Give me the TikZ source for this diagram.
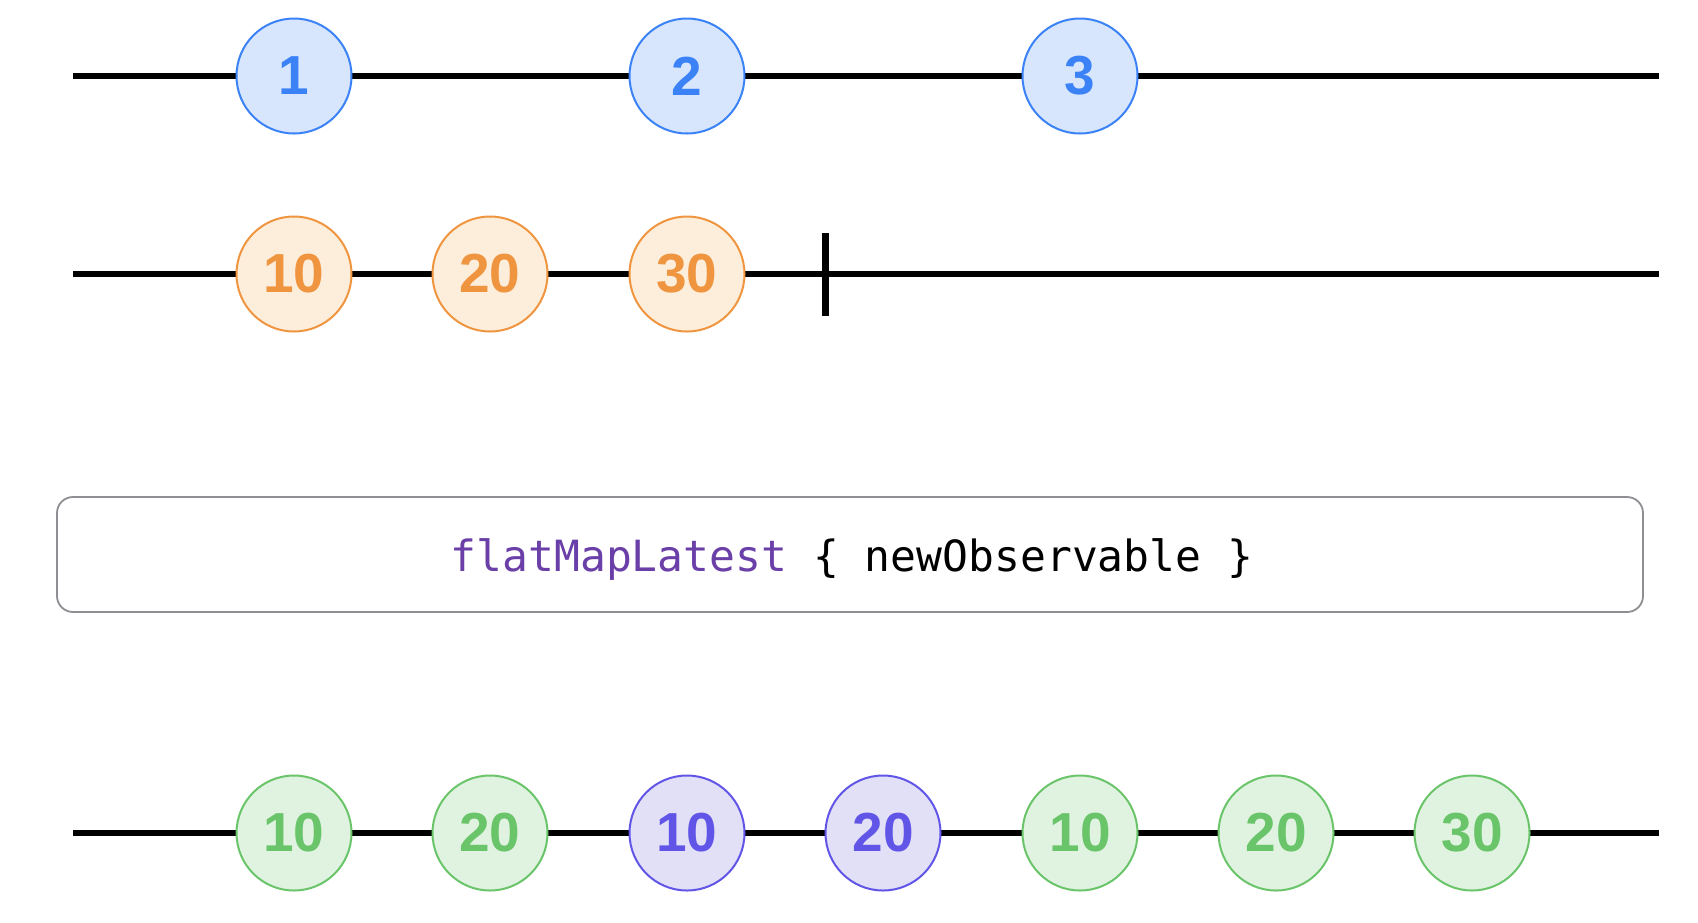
\documentclass[tikz,border=0pt]{standalone}
\usepackage{fontspec}
\newfontfamily\digitfont{Liberation Sans}
\newfontfamily\codefont{DejaVu Sans Mono}
\definecolor{bluestroke}{HTML}{3B82F6}
\definecolor{bluefill}{HTML}{D7E6FD}
\definecolor{orangestroke}{HTML}{F0953F}
\definecolor{orangefill}{HTML}{FDEEDB}
\definecolor{greenstroke}{HTML}{6AC46A}
\definecolor{greenfill}{HTML}{E0F3E0}
\definecolor{purplestroke}{HTML}{6155E8}
\definecolor{purplefill}{HTML}{E2E0F6}
\definecolor{kw}{HTML}{6A3FA8}
\definecolor{boxgray}{HTML}{8E8E93}
\tikzset{
  timeline/.style={line width=6.5, black},
  marble/.style={circle, minimum size=115, inner sep=0, line width=2,
    font=\digitfont\bfseries\fontsize{55}{60}\selectfont},
  bluem/.style={marble, draw=bluestroke, fill=bluefill, text=bluestroke},
  orangem/.style={marble, draw=orangestroke, fill=orangefill, text=orangestroke},
  greenm/.style={marble, draw=greenstroke, fill=greenfill, text=greenstroke},
  purplem/.style={marble, draw=purplestroke, fill=purplefill, text=purplestroke},
  opbox/.style={draw=boxgray, line width=1.8, rounded corners=16, fill=white,
    minimum width=1586, minimum height=115, inner sep=0},
  codetext/.style={font=\codefont\fontsize{43}{50}\selectfont, anchor=base, inner sep=0},
  endtick/.style={line width=7, black}
}
\begin{document}
\begin{tikzpicture}[x=1pt, y=-1pt]
\useasboundingbox (0,0) rectangle (1698,922);
% timelines
\coordinate (a0) at (73,76);  \coordinate (a1) at (1659,76);
\coordinate (b0) at (73,274); \coordinate (b1) at (1659,274);
\coordinate (c0) at (73,833); \coordinate (c1) at (1659,833);
\coordinate (t0) at (825,233); \coordinate (t1) at (825,316);
\draw[timeline] (a0) -- (a1);
\draw[timeline] (b0) -- (b1);
\draw[timeline] (c0) -- (c1);
\draw[endtick] (t0) -- (t1);
% top row
\node[bluem] (s1) at (294,76) {1};
\node[bluem] (s2) at (687,76) {2};
\node[bluem] (s3) at (1080,76) {3};
% inner observable
\node[orangem] (o1) at (294,274) {10};
\node[orangem] (o2) at (490,274) {20};
\node[orangem] (o3) at (687,274) {30};
% operator box
\node[opbox] (op) at (850,554.5) {};
\node[codetext] (optext) at (852,571) {{\color{kw}flatMapLatest} \{ newObservable \}};
% result
\node[greenm]  (r1) at (294,833) {10};
\node[greenm]  (r2) at (490,833) {20};
\node[purplem] (r3) at (687,833) {10};
\node[purplem] (r4) at (883,833) {20};
\node[greenm]  (r5) at (1080,833) {10};
\node[greenm]  (r6) at (1276,833) {20};
\node[greenm]  (r7) at (1472,833) {30};
\end{tikzpicture}
\end{document}
